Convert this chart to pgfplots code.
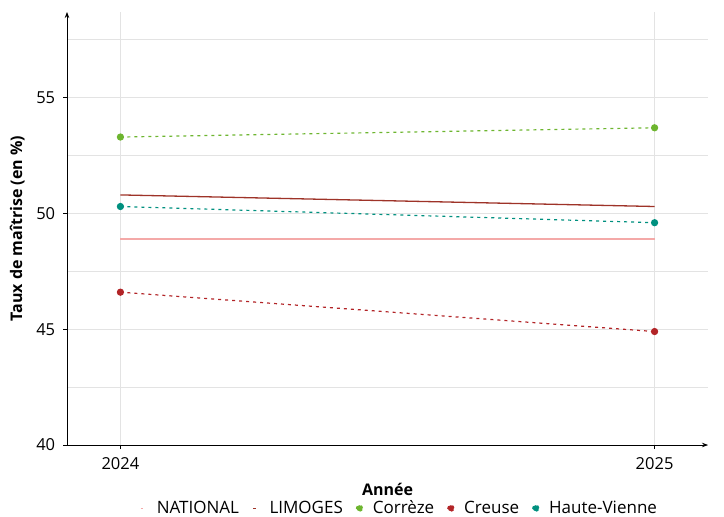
\documentclass[border=0pt]{standalone}
\usepackage{pgfplots}
\pgfplotsset{compat=1.18}
\usetikzlibrary{arrows.meta}
\usepackage{fontspec}
\setmainfont{Open Sans}
\definecolor{natc}{HTML}{F4A9A8}
\definecolor{limc}{HTML}{9E3328}
\definecolor{corc}{HTML}{6DB52F}
\definecolor{crec}{HTML}{B22427}
\definecolor{hvc}{HTML}{00907F}
\definecolor{gridc}{HTML}{E3E3E3}
\begin{document}
\fontsize{17}{20}\selectfont
\begin{tikzpicture}
\begin{axis}[
  scale only axis, width=641pt, height=433pt,
  at={(0,0)}, anchor=origin,
  xmin=2023.9, xmax=2025.1, ymin=40, ymax=58.7,
  axis lines=left,
  axis line style={black, thick, -{Stealth[length=6pt]}},
  xtick={2024,2025}, ytick={40,45,50,55},
  minor ytick={42.5,47.5,52.5,57.5},
  xticklabel style={/pgf/number format/1000 sep={}, yshift=-3pt},
  yticklabel style={xshift=-2pt},
  /pgf/number format/assume math mode=true,
  tick style={black, thin}, tick align=outside,
  major tick length=4pt, minor tick length=0pt,
  grid=both, major grid style={gridc, line width=1pt}, minor grid style={gridc, line width=0.8pt},
  ticklabel style={font=\fontsize{16.5}{19}\selectfont},
  xlabel={\textbf{Année}}, ylabel={\textbf{Taux de maîtrise (en \%)}},
  label style={font=\fontsize{16}{19}\selectfont},
  xlabel style={yshift=-2pt},
  ylabel style={yshift=0pt},
  legend columns=-1,
  legend style={draw=none, fill=none, inner sep=1pt, at={(0.518,-0.146)}, anchor=center, font=\fontsize{17}{20}\selectfont, /tikz/every even column/.append style={column sep=11pt}},
  legend cell align=left,
]
\addplot[natc, line width=1.5pt, legend image code/.code={\path[draw=none,fill=none] (0,0) -- (0.55cm,0); \draw[natc, line width=1.2pt, solid] (0.05cm,0) -- (0.15cm,0);}] coordinates {(2024,48.9) (2025,48.9)};
\addlegendentry{NATIONAL}
\addplot[limc, line width=1.3pt, legend image code/.code={\path[draw=none,fill=none] (0,0) -- (0.55cm,0); \draw[limc, line width=1.2pt, solid] (0.05cm,0) -- (0.15cm,0);}] coordinates {(2024,50.8) (2025,50.3)};
\addlegendentry{LIMOGES}
\addplot[corc, line width=1.2pt, dash pattern=on 3pt off 4pt, mark=*, mark size=3pt, mark options={solid}, legend image code/.code={\path[draw=none,fill=none] (0,0) -- (0.5cm,0); \fill[corc] (0.1cm,0) circle (3pt);}] coordinates {(2024,53.3) (2025,53.7)};
\addlegendentry{Corrèze}
\addplot[crec, line width=1.2pt, dash pattern=on 3pt off 4pt, mark=*, mark size=3pt, mark options={solid}, legend image code/.code={\path[draw=none,fill=none] (0,0) -- (0.5cm,0); \fill[crec] (0.1cm,0) circle (3pt);}] coordinates {(2024,46.6) (2025,44.9)};
\addlegendentry{Creuse}
\addplot[hvc, line width=1.2pt, dash pattern=on 3pt off 4pt, mark=*, mark size=3pt, mark options={solid}, legend image code/.code={\path[draw=none,fill=none] (0,0) -- (0.5cm,0); \fill[hvc] (0.1cm,0) circle (3pt);}] coordinates {(2024,50.3) (2025,49.6)};
\addlegendentry{Haute-Vienne}
\end{axis}
\pgfresetboundingbox
\path (-67pt,-72pt) rectangle (657pt,445pt);
\end{tikzpicture}
\end{document}
